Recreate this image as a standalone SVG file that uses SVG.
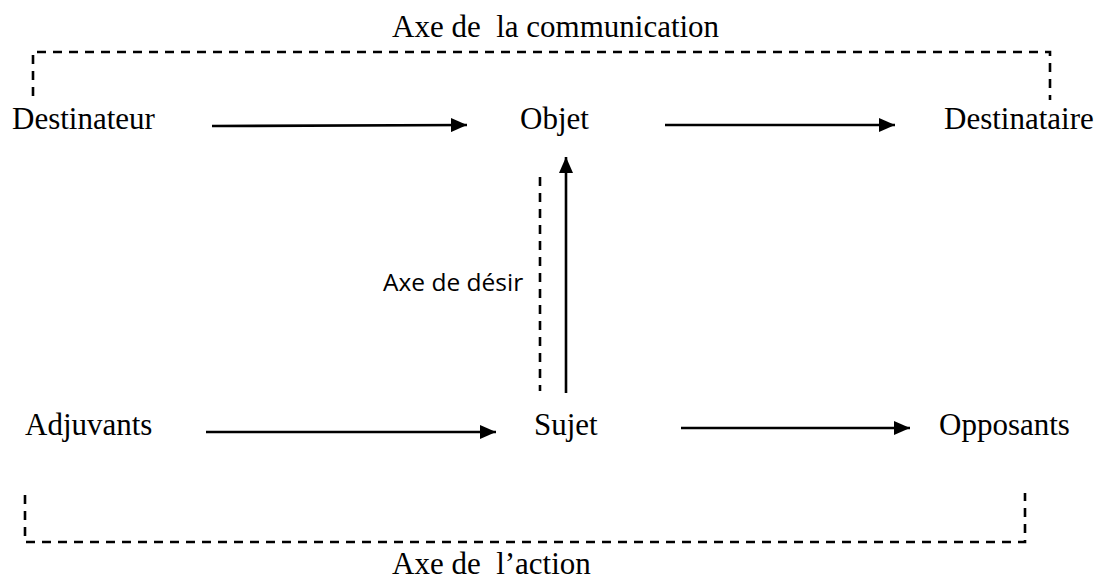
<svg xmlns="http://www.w3.org/2000/svg" width="1100" height="583" viewBox="0 0 1100 583">
<style>
.t{font-family:"Liberation Serif","Times New Roman",serif;font-size:31px;fill:#000}
.s{font-family:"Open Sans","Noto Sans",sans-serif;font-size:24.5px;fill:#000}
.a{stroke:#000;stroke-width:2.6;fill:none}
.d{stroke:#000;stroke-width:2.6;fill:none;stroke-dasharray:9,7}
</style>
<defs>
<marker id="ah" markerWidth="16" markerHeight="14" refX="16" refY="7" orient="auto" markerUnits="userSpaceOnUse">
<path d="M0,0 L16,7 L0,14 Z" fill="#000"/>
</marker>
</defs>
<rect width="1100" height="583" fill="#fff"/>
<g id="connectors">
<path class="d" d="M33,96 V52 H1050 V100"/>
<path class="d" d="M25,495 V542 H1025 V493"/>
<path class="d" d="M540,177 V391"/>
<line class="a" x1="212" y1="126" x2="467" y2="125" marker-end="url(#ah)"/>
<line class="a" x1="665" y1="125" x2="895" y2="125" marker-end="url(#ah)"/>
<line class="a" x1="566" y1="393" x2="566" y2="157" marker-end="url(#ah)"/>
<line class="a" x1="206" y1="432" x2="496" y2="432" marker-end="url(#ah)"/>
<line class="a" x1="681" y1="428" x2="910" y2="428" marker-end="url(#ah)"/>
</g>
<g id="title-comm"><text class="t" x="392" y="37" xml:space="preserve">Axe de  la communication</text></g>
<g id="destinateur"><text class="t" x="12" y="129">Destinateur</text></g>
<g id="objet"><text class="t" x="520" y="129">Objet</text></g>
<g id="destinataire"><text class="t" x="944" y="129">Destinataire</text></g>
<g id="desir"><text class="s" x="383" y="291">Axe de désir</text></g>
<g id="adjuvants"><text class="t" x="25" y="435">Adjuvants</text></g>
<g id="sujet"><text class="t" x="534" y="435">Sujet</text></g>
<g id="opposants"><text class="t" x="939" y="435">Opposants</text></g>
<g id="title-action"><text class="t" x="392" y="574" xml:space="preserve">Axe de  l’action</text></g>
</svg>
